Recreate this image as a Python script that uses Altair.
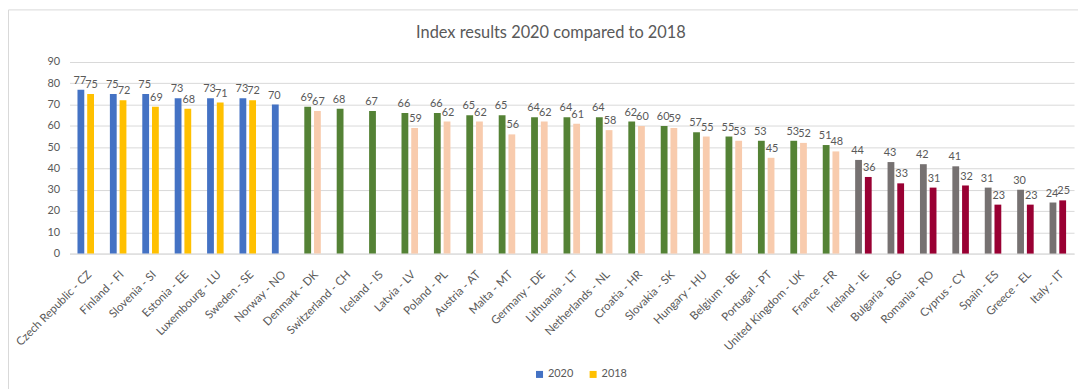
import altair as alt
import pandas as pd

countries = [
    "Czech Republic - CZ", "Finland - FI", "Slovenia - SI", "Estonia - EE",
    "Luxembourg - LU", "Sweden - SE", "Norway - NO", "Denmark - DK",
    "Switzerland - CH", "Iceland - IS", "Latvia - LV", "Poland - PL",
    "Austria - AT", "Malta - MT", "Germany - DE", "Lithuania - LT",
    "Netherlands - NL", "Croatia - HR", "Slovakia - SK", "Hungary - HU",
    "Belgium - BE", "Portugal - PT", "United Kingdom - UK", "France - FR",
    "Ireland - IE", "Bulgaria - BG", "Romania - RO", "Cyprus - CY",
    "Spain - ES", "Greece - EL", "Italy - IT",
]
values_2020 = [77, 75, 75, 73, 73, 73, 70, 69, 68, 67, 66, 66, 65, 65, 64, 64,
               64, 62, 60, 57, 55, 53, 53, 51, 44, 43, 42, 41, 31, 30, 24]
values_2018 = [75, 72, 69, 68, 71, 72, None, 67, None, None, 59, 62, 62, 56, 62, 61,
               58, 60, 59, 55, 53, 45, 52, 48, 36, 33, 31, 32, 23, 23, 25]
tiers = (["A"] * 7) + (["B"] * 17) + (["C"] * 7)

years = ["2020", "2018"]
color_keys = ["A 2020", "A 2018", "B 2020", "B 2018", "C 2020", "C 2018"]
color_range = ["#4472C4", "#FFC000", "#548235", "#F8CBAD", "#767171", "#990033"]

rows = []
for c, t, a, b in zip(countries, tiers, values_2020, values_2018):
    rows.append({"country": c, "year": "2020", "value": a, "key": f"{t} 2020"})
    if b is not None:
        rows.append({"country": c, "year": "2018", "value": b, "key": f"{t} 2018"})
df = pd.DataFrame(rows)

FONT = "Lato"
TXT = "#595959"
GRID = "#D9D9D9"

x_enc = alt.X(
    "country:N", sort=countries,
    scale=alt.Scale(paddingInner=0.49, paddingOuter=0.245),
    axis=alt.Axis(title=None, labelAngle=-45, labelFontSize=11.5, labelFont=FONT,
                  labelColor=TXT, ticks=False, domainColor=GRID, labelPadding=15,
                  labelOverlap=False),
)
xo_enc = alt.XOffset("year:N", sort=years, scale=alt.Scale(paddingInner=0.3))
y_enc = alt.Y(
    "value:Q", scale=alt.Scale(domain=[0, 90], nice=False),
    axis=alt.Axis(title=None, values=list(range(0, 91, 10)), grid=True, gridColor=GRID,
                  domain=False, ticks=False, labelFontSize=11, labelFont=FONT,
                  labelColor=TXT, labelPadding=10),
)

bars = alt.Chart(df).mark_bar().encode(
    x=x_enc, xOffset=xo_enc, y=y_enc,
    color=alt.Color(
        "key:N", scale=alt.Scale(domain=color_keys, range=color_range),
        legend=alt.Legend(
            title=None, values=["A 2020", "A 2018"], labelExpr="substring(datum.label, 2)",
            orient="none", legendX=468, legendY=309, direction="horizontal",
            symbolType="square", symbolSize=50, symbolStrokeWidth=0,
            labelFont=FONT, labelFontSize=11, labelColor=TXT, labelOffset=3,
            columnPadding=14,
        ),
    ),
)

labels_2020 = alt.Chart(df).transform_filter("datum.year == '2020'").mark_text(
    baseline="alphabetic", dy=-6, dx=-1, fontSize=11, font=FONT, color=TXT
).encode(x=x_enc, xOffset=xo_enc, y=y_enc, text="value:Q")
labels_2018 = alt.Chart(df).transform_filter("datum.year == '2018'").mark_text(
    baseline="alphabetic", dy=-6, dx=1, fontSize=11, font=FONT, color=TXT
).encode(x=x_enc, xOffset=xo_enc, y=y_enc, text="value:Q")

border = alt.Chart(alt.Data(values=[{"a": 1}])).mark_rule(color=GRID, strokeWidth=1).encode(
    x=alt.value(-61.5), y=alt.value(-52.5), y2=alt.value(400)
)
border_top = alt.Chart(alt.Data(values=[{"a": 1}])).mark_rule(color=GRID, strokeWidth=1).encode(
    x=alt.value(-61.5), x2=alt.value(1100), y=alt.value(-52.5)
)

chart = alt.layer(bars, labels_2020, labels_2018, border, border_top).properties(
    width=1012, height=193,
    title=alt.TitleParams(
        "Index results 2020 compared to 2018", fontSize=16.5, font=FONT,
        fontWeight="normal", color=TXT, anchor="middle", dx=-21, offset=-32,
        frame="group",
    ),
    autosize=alt.AutoSizeParams(type="none"),
    padding={"left": 62, "top": 53, "right": 4, "bottom": 135},
).configure_view(stroke=None)

chart.save("out.html", embed_options={"renderer": "svg", "actions": False})
